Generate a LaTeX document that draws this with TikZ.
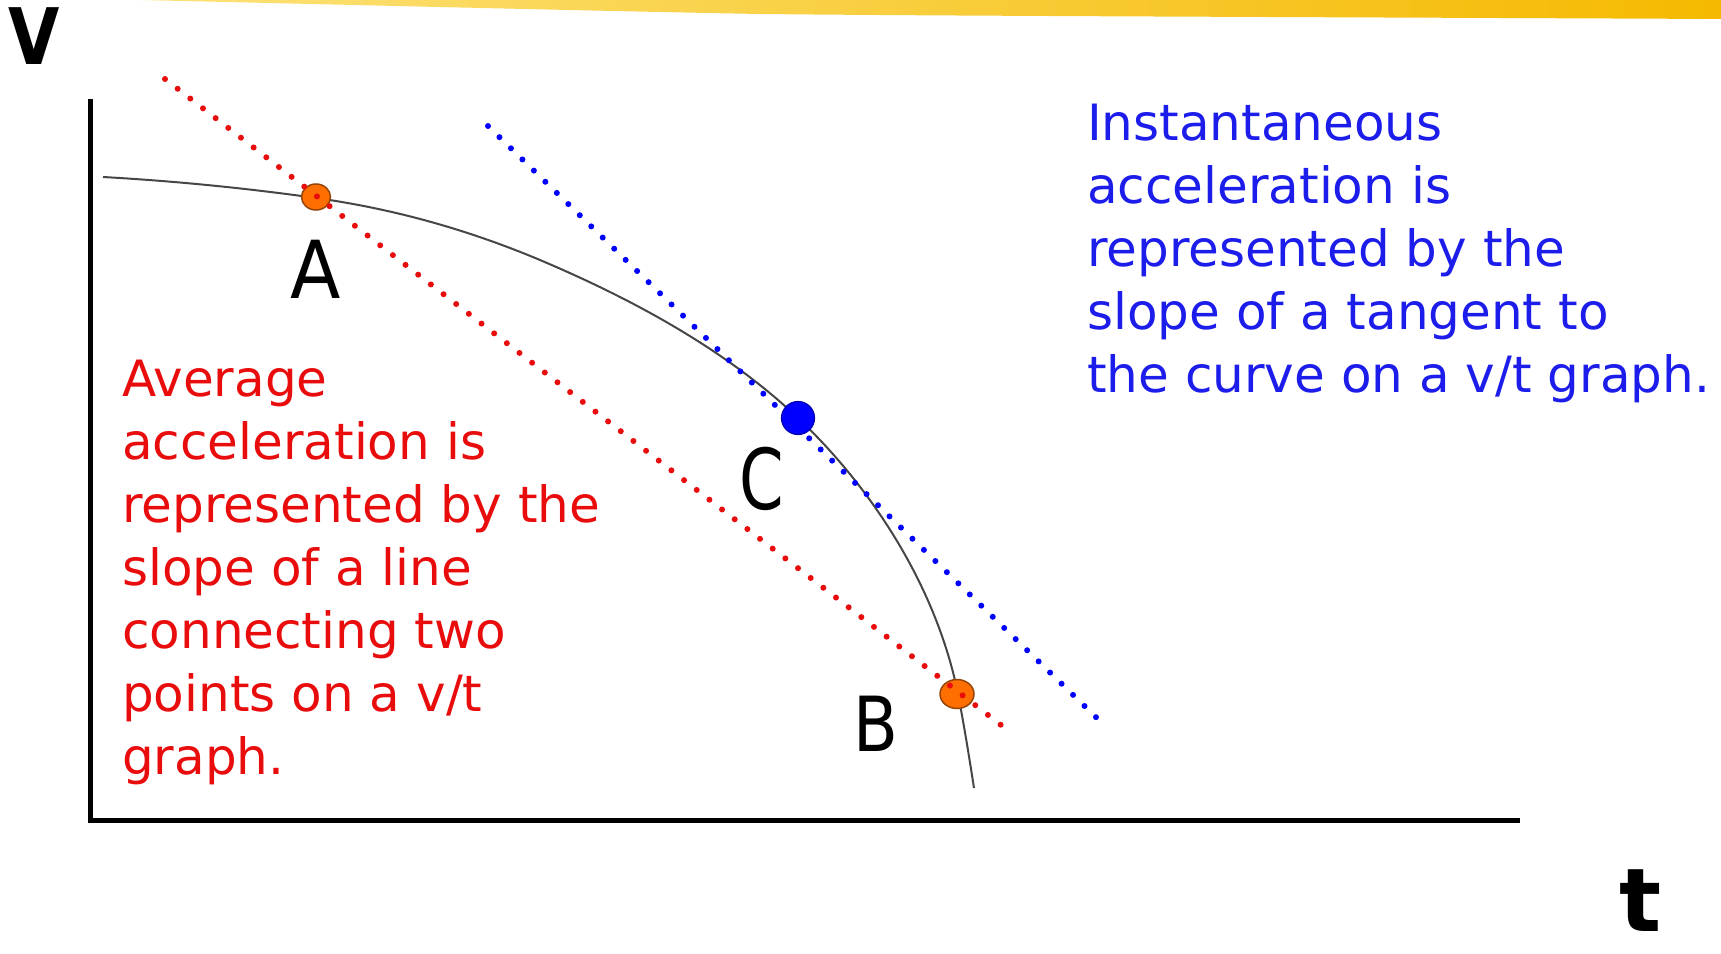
\documentclass[tikz,border=0pt]{standalone}
\usepackage{fontspec}
\setmainfont{DejaVu Sans}
\usetikzlibrary{shapes.geometric}
\definecolor{txtred}{RGB}{232,12,12}
\definecolor{txtblue}{RGB}{28,28,235}
\definecolor{ptorange}{RGB}{255,110,0}
\definecolor{ptborder}{RGB}{150,70,10}
\definecolor{barlight}{RGB}{252,226,120}
\definecolor{bardark}{RGB}{245,185,0}
\definecolor{curvegray}{RGB}{70,70,70}
\newcommand{\narrowlabel}[2]{\scalebox{#1}[1]{#2}}
\tikzset{
  redtxt/.style={anchor=base west, inner sep=0pt, text=txtred, font=\fontsize{50}{63}\selectfont},
  bluetxt/.style={anchor=base west, inner sep=0pt, text=txtblue, font=\fontsize{50}{63}\selectfont},
  ptlabel/.style={anchor=base, inner sep=0pt, text=black},
  orangept/.style={ellipse, draw=ptborder, line width=1.5pt, fill=ptorange, inner sep=0pt},
  bluept/.style={circle, draw=blue!70!black, line width=1.2pt, fill=blue, inner sep=0pt, minimum size=33pt},
  reddots/.style={draw=txtred, line width=6pt, line cap=round, dash pattern=on 0pt off 16pt},
  bluedots/.style={draw=blue, line width=6pt, line cap=round, dash pattern=on 0pt off 16pt},
  axisline/.style={draw=black, line width=5pt},
  curveline/.style={draw=curvegray, line width=2pt}
}
\begin{document}
\begin{tikzpicture}[x=1pt,y=-1pt]
\useasboundingbox (0,0) rectangle (1721,953);
% decorative bar at the top
\shade[left color=barlight, right color=bardark]
  (140,0) -- (1721,0) -- (1721,19) .. controls (1300,17) and (950,16) .. (760,14)
  .. controls (600,11) and (400,6) .. (140,0) -- cycle;
% axes
\coordinate (ytop) at (90,99);
\coordinate (orig) at (90,820);
\coordinate (xend) at (1520,820);
\draw[axisline] (ytop) -- (orig) -- (xend);
% curve
\coordinate (c0) at (103,177);
\coordinate (cA) at (316,198);
\coordinate (c2) at (540,260);
\coordinate (cC) at (798,418);
\coordinate (cB) at (958,694);
\coordinate (c5) at (974,788);
\draw[curveline] (c0) .. controls (174,181) and (245,188) .. (cA)
  .. controls (391,208.5) and (465,228.5) .. (c2)
  .. controls (632,299) and (725,349) .. (cC)
  .. controls (875,491) and (937,590) .. (cB)
  .. controls (964,725) and (969,756) .. (c5);
% points
\node[orangept, minimum width=29pt, minimum height=26pt] (A) at (316,197) {};
\node[orangept, minimum width=34pt, minimum height=29pt] (B) at (957,694) {};
% dotted lines
\coordinate (rs) at (165,79);
\coordinate (re) at (1010,732);
\draw[reddots] (rs) -- (re);
\coordinate (bs) at (488,126);
\coordinate (be) at (1103,724);
\draw[bluedots] (bs) -- (be);
\node[bluept] (C) at (798,418) {};
% point labels
\node[ptlabel, font=\fontsize{80}{80}\selectfont] (lA) at (316,298) {\narrowlabel{0.92}{A}};
\node[ptlabel, font=\fontsize{84}{84}\selectfont] (lC) at (762,509) {\narrowlabel{0.76}{C}};
\node[ptlabel, font=\fontsize{76}{76}\selectfont] (lB) at (876,751) {\narrowlabel{0.86}{B}};
\node[ptlabel, font=\fontsize{78}{78}\selectfont\bfseries] (lV) at (34,64) {\narrowlabel{0.85}{V}};
\node[ptlabel, font=\fontsize{88}{88}\selectfont\bfseries] (lt) at (1641,931) {t};
% red text
\node[redtxt] (r1) at (122,396) {Average};
\node[redtxt] (r2) at (122,459) {acceleration is};
\node[redtxt] (r3) at (122,522) {represented by the};
\node[redtxt] (r4) at (122,585) {slope of a line};
\node[redtxt] (r5) at (122,648) {connecting two};
\node[redtxt] (r6) at (122,711) {points on a v/t};
\node[redtxt] (r7) at (122,774) {graph.};
% blue text
\node[bluetxt] (b1) at (1087,140) {Instantaneous};
\node[bluetxt] (b2) at (1087,203) {acceleration is};
\node[bluetxt] (b3) at (1087,266) {represented by the};
\node[bluetxt] (b4) at (1087,329) {slope of a tangent to};
\node[bluetxt] (b5) at (1087,392) {the curve on a v/t graph.};
\end{tikzpicture}
\end{document}
